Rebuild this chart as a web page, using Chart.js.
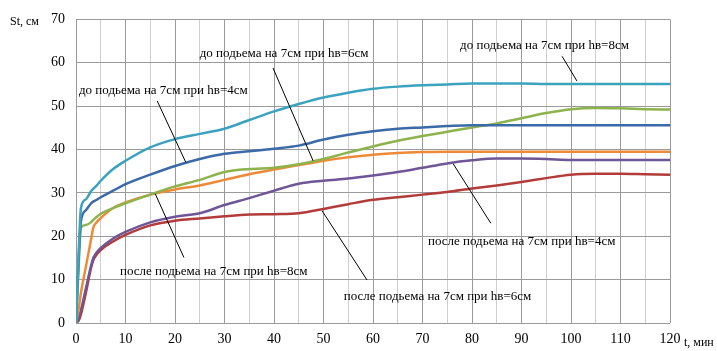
<!DOCTYPE html>
<html>
<head>
<meta charset="utf-8">
<script src="https://cdn.jsdelivr.net/npm/chart.js@4"></script>
<style>
  body { margin: 0; background: #fff; }
  #wrap { width: 717px; height: 351px; }
</style>
</head>
<body>
<div id="wrap"><canvas id="settleChart"></canvas></div>
<script>
// time, min
const times = [0, 0.5, 1, 2, 3, 3.5, 4, 5, 7.5, 10, 15, 20, 25, 30, 35, 40, 45, 50, 55, 60,
  65, 70, 75, 80, 85, 90, 95, 100, 105, 110, 115, 120];

// settlement St, cm
const before8 = [0, 15, 26.5, 28.5, 30.3, 31, 31.5, 32.8, 35.5, 37.4, 40.5, 42.4, 43.6, 44.8, 46.8, 48.8, 50.5, 52, 53.1, 54,
  54.5, 54.8, 55, 55.2, 55.2, 55.2, 55.1, 55.1, 55.1, 55.1, 55.1, 55.1];
const before4 = [0, 14, 23.5, 26, 27.5, 28, 28.3, 29, 30.5, 32, 34.2, 36.2, 37.8, 39, 39.6, 40.2, 40.9, 42.3, 43.4, 44.2,
  44.8, 45.1, 45.4, 45.6, 45.6, 45.6, 45.6, 45.6, 45.6, 45.6, 45.6, 45.6];
const before6 = [0, 12, 22, 22.6, 23.2, 23.8, 24.3, 25.2, 26.5, 27.6, 29.6, 31.5, 33, 34.8, 35.5, 35.8, 36.6, 37.8, 39.3, 40.7,
  42, 43.1, 44.1, 45.1, 46, 47.2, 48.4, 49.3, 49.6, 49.5, 49.3, 49.2];
const after4 = [0, 3, 7, 13, 19, 22, 23, 24.2, 26.5, 27.8, 29.6, 30.8, 31.7, 33, 34.3, 35.4, 36.4, 37.4, 38.2, 38.8,
  39.2, 39.4, 39.5, 39.5, 39.5, 39.5, 39.5, 39.5, 39.5, 39.5, 39.5, 39.5];
const after8 = [0, 1, 3, 8, 13, 15, 16, 17.3, 19.5, 21, 23.2, 24.5, 25.3, 27.2, 28.8, 30.5, 32.1, 32.8, 33.3, 34,
  34.8, 35.8, 36.8, 37.5, 37.9, 37.9, 37.8, 37.6, 37.6, 37.6, 37.6, 37.6];
const after6 = [0, 0.5, 2, 7, 12.5, 14.5, 15.5, 16.8, 18.8, 20.3, 22.5, 23.6, 24.1, 24.6, 25, 25.1, 25.3, 26.3, 27.4, 28.4,
  29, 29.6, 30.2, 31, 31.7, 32.5, 33.4, 34.2, 34.4, 34.4, 34.3, 34.2];

const seriesNames = [
  "до подьема на 7см при hв=8см",
  "до подьема на 7см при hв=6см",
  "до подьема на 7см при hв=4см",
  "после подьема на 7см при hв=8см",
  "после подьема на 7см при hв=4см",
  "после подьема на 7см при hв=6см",
];

// callouts: text anchor (left, middle) and leader line, in axis units
const callouts = [
  { text: seriesNames[0], at: [77.6, 64], from: [98.2, 61.5], to: [101.2, 55.8] },
  { text: seriesNames[1], at: [25, 62.2], from: [39.8, 58.8], to: [47.9, 37.4] },
  { text: seriesNames[2], at: [0.6, 53.7], from: [16.4, 51.2], to: [22.2, 37] },
  { text: seriesNames[3], at: [8.9, 11.9], from: [16, 29.8], to: [21.8, 15.1] },
  { text: seriesNames[4], at: [71.1, 18.8], from: [76.2, 36.7], to: [83.8, 23] },
  { text: seriesNames[5], at: [54.1, 6], from: [49.7, 25.9], to: [58.8, 9.9] },
];

const toPoints = (vals) => vals.map((v, i) => ({ x: times[i], y: v }));

function line(vals, color) {
  return {
    data: toPoints(vals),
    borderColor: color,
    borderWidth: 2.5,
    pointRadius: 0,
    fill: false,
    cubicInterpolationMode: "monotone",
  };
}

const serif = "'Liberation Serif', 'Times New Roman', serif";

const calloutPlugin = {
  id: "callouts",
  afterDatasetsDraw(chart) {
    const { ctx, scales: { x, y }, chartArea } = chart;
    ctx.save();
    ctx.strokeStyle = "#000";
    ctx.lineWidth = 1;
    ctx.fillStyle = "#000";
    ctx.font = "13px " + serif;
    ctx.textBaseline = "middle";
    callouts.forEach((c) => {
      ctx.beginPath();
      ctx.moveTo(x.getPixelForValue(c.from[0]), y.getPixelForValue(c.from[1]));
      ctx.lineTo(x.getPixelForValue(c.to[0]), y.getPixelForValue(c.to[1]));
      ctx.stroke();
      ctx.fillText(c.text, x.getPixelForValue(c.at[0]), y.getPixelForValue(c.at[1]));
    });
    // axis titles
    ctx.font = "12px " + serif;
    ctx.fillText("St, см", 10, chartArea.top + 2);
    ctx.fillText("t, мин", chartArea.right + 14, chartArea.bottom + 20);
    ctx.restore();
  },
};

new Chart(document.getElementById("settleChart"), {
  type: "line",
  data: {
    datasets: [
      line(before8, "#3ba3bf"),
      line(before4, "#3b6aa9"),
      line(before6, "#8db34c"),
      line(after4, "#ee8a37"),
      line(after8, "#6f5697"),
      line(after6, "#b23c3a"),
    ],
  },
  options: {
    responsive: true,
    maintainAspectRatio: false,
    animation: false,
    layout: { padding: { top: 18, right: 47, left: 0, bottom: 0 } },
    plugins: { legend: { display: false }, tooltip: { enabled: false } },
    scales: {
      x: {
        type: "linear",
        min: 0,
        max: 120,
        afterFit: (s) => { s.height = 28; },
        border: { display: false },
        grid: {
          drawTicks: false,
          color: (c) => (c.tick && c.tick.value % 10 === 0 ? "#9a9a9a" : "#cfcfcf"),
          lineWidth: 1,
        },
        ticks: {
          stepSize: 5,
          autoSkip: false,
          maxRotation: 0,
          padding: 8,
          color: "#000",
          font: { family: serif, size: 14 },
          callback: (v) => (v % 10 === 0 ? v : ""),
        },
      },
      y: {
        min: 0,
        max: 70,
        afterFit: (s) => { s.width = 76; },
        border: { display: false },
        grid: { drawTicks: false, color: "#9a9a9a", lineWidth: 1 },
        ticks: {
          stepSize: 10,
          padding: 11,
          color: "#000",
          font: { family: serif, size: 14 },
        },
      },
    },
  },
  plugins: [calloutPlugin],
});
</script>
</body>
</html>
